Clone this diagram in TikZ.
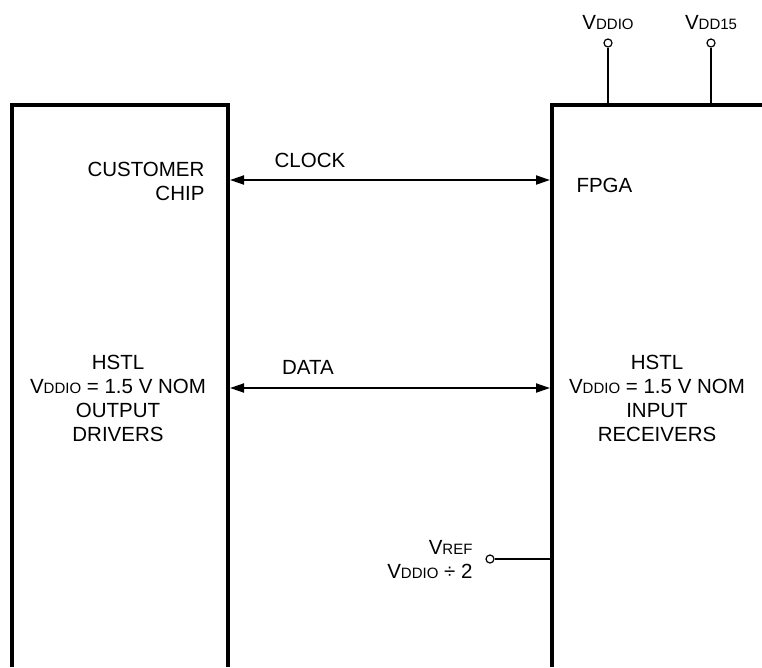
\documentclass[tikz,border=0pt]{standalone}
\usepackage{fontspec}
\setmainfont{Liberation Sans}
\usetikzlibrary{arrows.meta}
\newcommand{\vname}[1]{V{\fontsize{15}{15}\selectfont #1}}

\begin{document}
\begin{tikzpicture}[x=1pt,y=-1pt,
  every node/.style={font=\fontsize{20.5}{24}\selectfont},
  chip/.style={line width=3.2pt},
  wire/.style={line width=2pt},
  bus/.style={wire,{Triangle[length=14pt,width=9pt]}-{Triangle[length=14pt,width=9pt]}},
  term/.style={circle,draw,line width=1.2pt,fill=white,inner sep=0pt,minimum size=8pt}]
  \useasboundingbox (0,0) rectangle (762,667);
  % the two chips
  \draw[chip] (12,667) -- (12,105) -- (228,105) -- (228,667);
  \draw[chip] (552,667) -- (552,105) -- (762,105);
  \node[anchor=east,align=right] (cust) at (208,181) {CUSTOMER\\CHIP};
  \node[anchor=west] (fpga) at (573,185) {FPGA};
  \node[align=center] (drv) at (118,398) {HSTL\\\vname{DDIO} = 1.5 V NOM\\OUTPUT\\DRIVERS};
  \node[align=center] (rcv) at (657,398) {HSTL\\\vname{DDIO} = 1.5 V NOM\\INPUT\\RECEIVERS};
  % supply pins
  \node[term] (pddio) at (608,43) {};
  \node[term] (pdd15) at (711,43) {};
  \node[anchor=base] (lddio) at (608,29.5) {\vname{DDIO}};
  \node[anchor=base] (ldd15) at (711,29.5) {\vname{DD15}};
  \coordinate (tddio) at (608,105);
  \coordinate (tdd15) at (711,105);
  \draw[wire] (pddio) -- (tddio);
  \draw[wire] (pdd15) -- (tdd15);
  % reference input
  \node[term] (pref) at (490,559) {};
  \node[anchor=east,align=right] (lref) at (476,560) {\vname{REF}\\\vname{DDIO} ÷ 2};
  \coordinate (tref) at (552,559);
  \draw[wire] (pref) -- (tref);
  % signals
  \coordinate (clkL) at (230,180);
  \coordinate (clkR) at (550,180);
  \coordinate (datL) at (230,388);
  \coordinate (datR) at (550,388);
  \draw[bus] (clkL) -- (clkR);
  \draw[bus] (datL) -- (datR);
  \node (lclk) at (310,160) {CLOCK};
  \node (ldat) at (308,367) {DATA};
\end{tikzpicture}
\end{document}
